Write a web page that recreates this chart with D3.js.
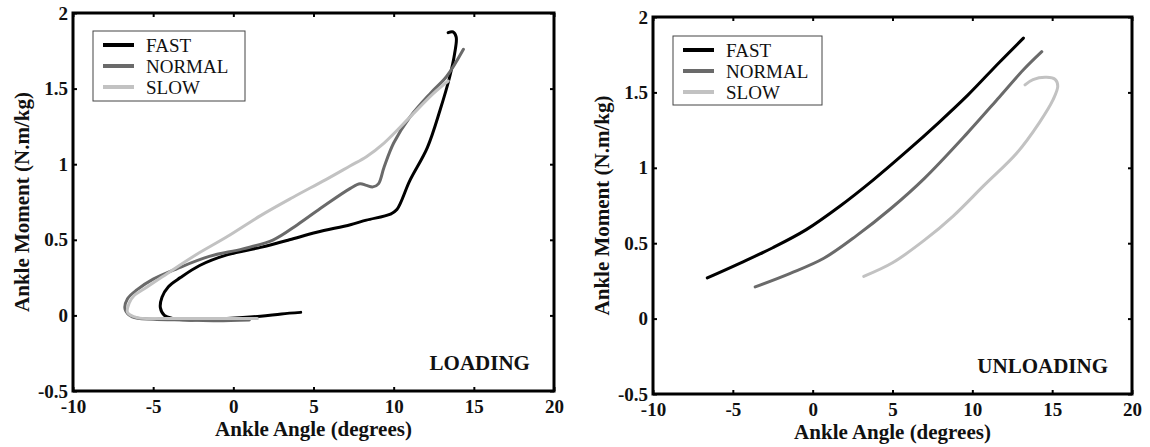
<!DOCTYPE html>
<html>
<head>
<meta charset="utf-8">
<script src="https://cdn.jsdelivr.net/npm/d3@7"></script>
<style>
  body { margin: 0; background: #fff; }
  text { font-family: "Liberation Serif", "Times New Roman", serif; fill: #111; }
</style>
</head>
<body>
<div class="canvas"></div>
<script>
// series names + colours
const seriesNames = ["FAST", "NORMAL", "SLOW"];
const seriesColours = ["#000000", "#6a6a6a", "#c2c2c2"];

const xTicks = [-10, -5, 0, 5, 10, 15, 20];
const yTicks = [-0.5, 0, 0.5, 1, 1.5, 2];

// loading phase [angle, moment]
const loadFast = [[4.2,0.02],[3,0.01],[1.7,-0.005],[-0.4,-0.02],[-2.7,-0.03],[-3.8,-0.02],[-4.3,0.0],[-4.55,0.05],[-4.45,0.12],[-4.05,0.19],[-3.3,0.25],[-2.1,0.33],[-0.4,0.40],[1.7,0.45],[3.5,0.50],[5.2,0.55],[7.3,0.60],[8.3,0.63],[9.8,0.67],[10.2,0.70],[11.0,0.89],[12.1,1.11],[12.9,1.36],[13.5,1.58],[13.8,1.73],[13.9,1.84],[13.7,1.875],[13.4,1.87]];
const loadNormal = [[1.0,-0.03],[-1,-0.035],[-3,-0.03],[-5,-0.025],[-6.3,-0.01],[-6.75,0.04],[-6.6,0.11],[-6.0,0.17],[-5.0,0.24],[-3.5,0.31],[-1.5,0.39],[0.6,0.44],[2.5,0.50],[4.0,0.60],[5.6,0.72],[7.3,0.84],[7.9,0.87],[8.3,0.86],[8.7,0.85],[9.05,0.87],[9.4,0.98],[10.0,1.14],[11.0,1.31],[12.3,1.47],[13.3,1.58],[14.35,1.76]];
const loadSlow = [[1.5,-0.02],[0,-0.02],[-2,-0.02],[-4,-0.02],[-6.0,-0.015],[-6.6,0.02],[-6.5,0.08],[-6.2,0.13],[-5.5,0.18],[-4.5,0.25],[-2.5,0.39],[-0.4,0.52],[1.7,0.66],[3.7,0.78],[5.8,0.9],[7.3,0.99],[8.3,1.05],[9.4,1.14],[11.0,1.31],[12.5,1.47],[13.4,1.55]];

// unloading phase
const unloadFast = [[-6.6,0.27],[-4.5,0.37],[-2.5,0.47],[-0.4,0.59],[1.7,0.745],[3.8,0.92],[5.9,1.11],[7.9,1.30],[9.7,1.48],[11.7,1.70],[13.2,1.86]];
const unloadNormal = [[-3.6,0.21],[-1.4,0.30],[0.7,0.40],[2.75,0.55],[4.9,0.73],[7.0,0.93],[9.6,1.22],[11.7,1.47],[13.2,1.65],[14.35,1.77]];
const unloadSlow = [[3.2,0.28],[5.0,0.37],[7.0,0.52],[8.8,0.68],[10.7,0.88],[12.8,1.10],[14.2,1.30],[15.05,1.45],[15.35,1.54],[15.2,1.585],[14.65,1.60],[13.8,1.585],[13.3,1.55]];

const svg = d3.select(".canvas")
    .append("svg")
    .attr("width", 1150)
    .attr("height", 447);

const drawPanel = (opts) => {
    const { left, right, top, bottom, series, label, legend, yTitleX, xTitleY } = opts;

    const x = d3.scaleLinear().domain([-10, 20]).range([left, right]);
    const y = d3.scaleLinear().domain([-0.5, 2]).range([bottom, top]);

    const g = svg.append("g");

    // ticks, inward on all four sides
    const xAxis = d3.axisBottom(x).tickValues(xTicks).tickSizeInner(-4).tickSizeOuter(0).tickPadding(9)
        .tickFormat(d => String(d));
    const yAxis = d3.axisLeft(y).tickValues(yTicks).tickSizeInner(-4).tickSizeOuter(0).tickPadding(5)
        .tickFormat(d => String(d));
    const xTop = d3.axisTop(x).tickValues(xTicks).tickSizeInner(-4).tickSizeOuter(0).tickFormat("");
    const yRight = d3.axisRight(y).tickValues(yTicks).tickSizeInner(-4).tickSizeOuter(0).tickFormat("");

    const axes = [
        [xAxis, `translate(0, ${bottom})`],
        [yAxis, `translate(${left}, 0)`],
        [xTop, `translate(0, ${top})`],
        [yRight, `translate(${right}, 0)`]
    ];
    axes.forEach(([ax, tr]) => {
        const a = g.append("g").attr("transform", tr).call(ax);
        a.select(".domain").remove();
        a.selectAll("line").attr("stroke", "#000").attr("stroke-width", 2);
        a.selectAll("text")
            .style("font-family", '"Liberation Serif", "Times New Roman", serif')
            .style("font-size", "19px")
            .style("font-weight", "bold")
            .attr("fill", "#111");
    });

    // data lines
    const line = d3.line()
        .x(d => x(d[0]))
        .y(d => y(d[1]))
        .curve(d3.curveCatmullRom.alpha(0.5));

    g.selectAll("path.series")
        .data(series)
        .enter()
        .append("path")
        .attr("class", "series")
        .attr("d", d => line(d))
        .attr("fill", "none")
        .attr("stroke", (d, i) => seriesColours[i])
        .attr("stroke-width", 3)
        .attr("stroke-linejoin", "round")
        .attr("stroke-linecap", "round");

    // frame
    g.append("rect")
        .attr("x", left)
        .attr("y", top)
        .attr("width", right - left)
        .attr("height", bottom - top)
        .attr("fill", "none")
        .attr("stroke", "#000")
        .attr("stroke-width", 3);

    // legend
    const lg = g.append("g");
    lg.append("rect")
        .attr("x", legend.x)
        .attr("y", legend.y)
        .attr("width", legend.w)
        .attr("height", legend.h)
        .attr("fill", "#fff")
        .attr("stroke", "#444")
        .attr("stroke-width", 1);
    seriesNames.forEach((name, i) => {
        const ly = legend.y + 14 + i * 21;
        lg.append("line")
            .attr("x1", legend.x + 10)
            .attr("x2", legend.x + 41)
            .attr("y1", ly)
            .attr("y2", ly)
            .attr("stroke", seriesColours[i])
            .attr("stroke-width", 4);
        lg.append("text")
            .attr("x", legend.x + 53)
            .attr("y", ly)
            .attr("dy", "0.35em")
            .style("font-size", "19px")
            .text(name);
    });

    // phase label
    g.append("text")
        .attr("x", x(18.5))
        .attr("y", y(-0.36))
        .attr("text-anchor", "end")
        .style("font-size", "21px")
        .style("font-weight", "bold")
        .attr("fill", "#222")
        .text(label);

    // axis titles
    g.append("text")
        .attr("x", (left + right) / 2)
        .attr("y", xTitleY)
        .attr("text-anchor", "middle")
        .style("font-size", "21px")
        .style("font-weight", "bold")
        .text("Ankle Angle (degrees)");

    g.append("text")
        .attr("transform", `translate(${yTitleX}, ${(top + bottom) / 2}) rotate(-90)`)
        .attr("text-anchor", "middle")
        .attr("dy", "0.35em")
        .style("font-size", "21px")
        .style("font-weight", "bold")
        .text("Ankle Moment (N.m/kg)");
};

drawPanel({
    left: 73, right: 554, top: 13, bottom: 391,
    series: [loadFast, loadNormal, loadSlow],
    label: "LOADING",
    legend: { x: 93, y: 31, w: 152, h: 70 },
    yTitleX: 22, xTitleY: 436
});

drawPanel({
    left: 653, right: 1132, top: 17, bottom: 394,
    series: [unloadFast, unloadNormal, unloadSlow],
    label: "UNLOADING",
    legend: { x: 673, y: 36, w: 149, h: 69 },
    yTitleX: 602, xTitleY: 439
});
</script>
</body>
</html>
